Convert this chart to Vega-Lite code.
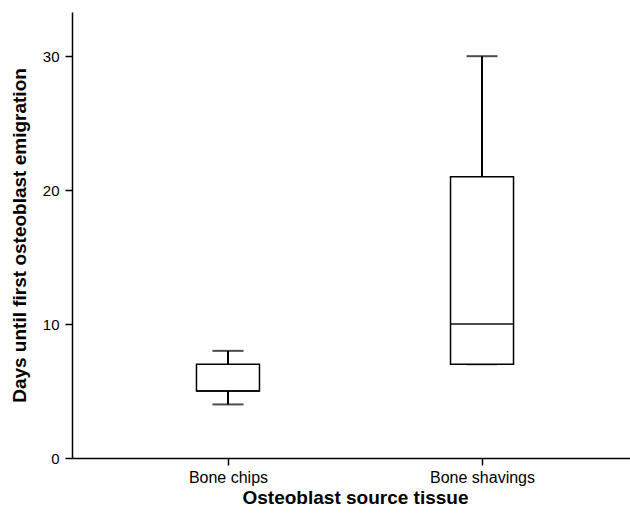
{
  "$schema": "https://vega.github.io/schema/vega-lite/v6.json",
  "autosize": "none",
  "padding": {"left": 72, "top": 12, "right": 0, "bottom": 57},
  "width": 566,
  "height": 446,
  "background": "white",
  "config": {
    "view": {"stroke": null},
    "font": "Liberation Sans",
    "axis": {"grid": false, "domainColor": "black", "tickColor": "black", "labelColor": "black", "titleColor": "black", "domainWidth": 1.5, "tickWidth": 1.5, "tickSize": 7}
  },
  "data": {
    "values": [
      {"tissue": "Bone chips", "min": 4, "q1": 5, "median": 5, "q3": 7, "max": 8},
      {"tissue": "Bone shavings", "min": 7, "q1": 7, "median": 10, "q3": 21, "max": 30}
    ]
  },
  "encoding": {
    "x": {
      "field": "tissue", "type": "nominal",
      "scale": {"type": "point", "padding": 0.614},
      "axis": {"title": "Osteoblast source tissue", "labelAngle": 0, "labelFontSize": 16, "labelPadding": 4, "titleFontSize": 19, "titleFontWeight": "bold", "titlePadding": 3}
    }
  },
  "layer": [
    {
      "mark": {"type": "rule", "color": "black", "strokeWidth": 2},
      "encoding": {
        "y": {"field": "min", "type": "quantitative", "scale": {"domain": [0, 33.3], "nice": false, "zero": true},
          "axis": {"title": "Days until first osteoblast emigration", "values": [0, 10, 20, 30], "labelFontSize": 15, "labelPadding": 6, "titleFontSize": 19, "titleFontWeight": "bold", "titlePadding": 13}},
        "y2": {"field": "max"}
      }
    },
    {
      "mark": {"type": "tick", "color": "black", "size": 31, "thickness": 2, "orient": "horizontal"},
      "encoding": {"y": {"field": "min", "type": "quantitative"}}
    },
    {
      "mark": {"type": "tick", "color": "black", "size": 31, "thickness": 2, "orient": "horizontal"},
      "encoding": {"y": {"field": "max", "type": "quantitative"}}
    },
    {
      "mark": {"type": "bar", "size": 63, "fill": "white", "stroke": "black", "strokeWidth": 1.5},
      "encoding": {"y": {"field": "q1", "type": "quantitative"}, "y2": {"field": "q3"}}
    },
    {
      "mark": {"type": "tick", "color": "black", "size": 63, "thickness": 2, "orient": "horizontal"},
      "encoding": {"y": {"field": "median", "type": "quantitative"}}
    }
  ]
}
